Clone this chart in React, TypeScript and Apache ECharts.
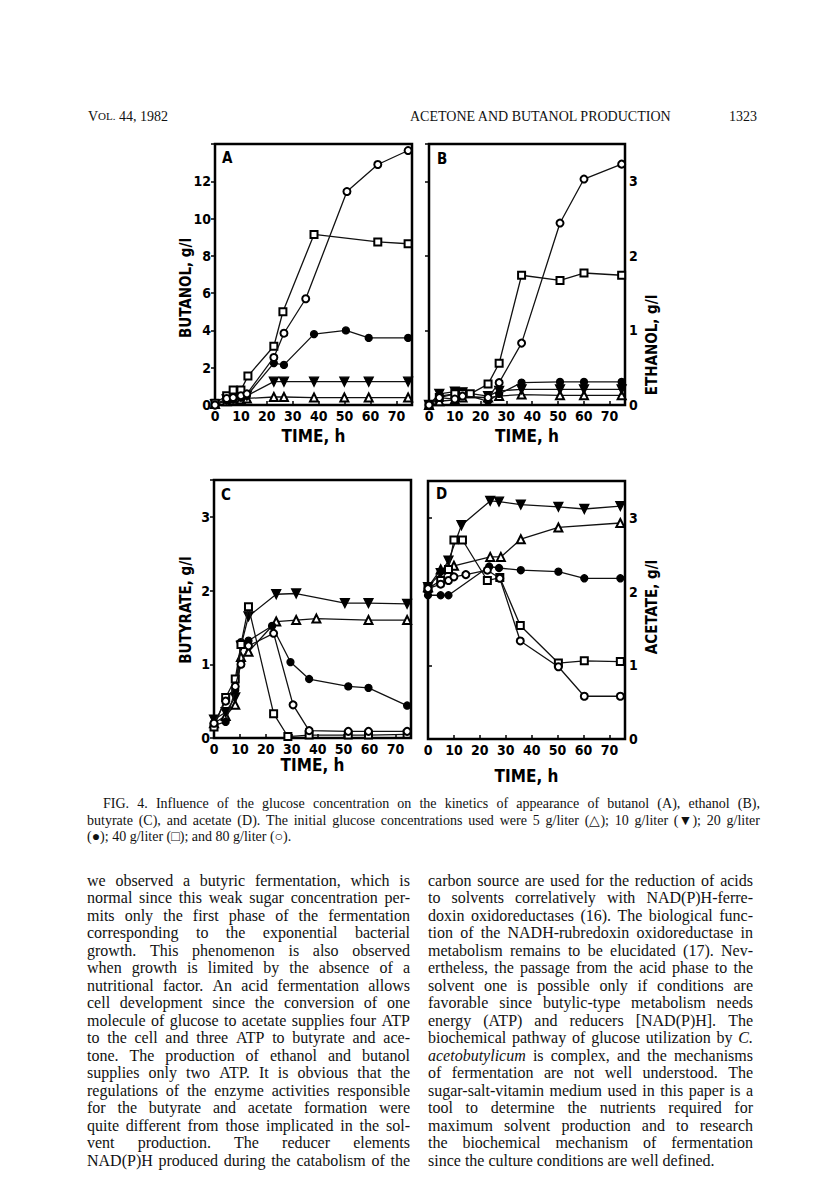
import React, { useEffect, useRef } from 'react';
import * as echarts from 'echarts';

// ---------- DATA (time h, value g/l) ----------
// Panel A: butanol
const butanol5: [number, number][] = [[0, 0.05], [4.5, 0.2], [7, 0.25], [10, 0.3], [12.3, 0.35], [22.7, 0.43], [26.6, 0.43], [38.2, 0.4], [49.9, 0.4], [59.3, 0.4], [74.5, 0.4]];
const butanol10: [number, number][] = [[0, 0.05], [4.5, 0.3], [7, 0.35], [10, 0.45], [12.3, 0.5], [22.7, 1.25], [26.6, 1.25], [38.2, 1.25], [49.9, 1.25], [59.3, 1.25], [74.5, 1.25]];
const butanol20: [number, number][] = [[0, 0], [4.5, 0.25], [7, 0.3], [10, 0.4], [12.3, 0.5], [22.7, 2.25], [26.6, 2.15], [38.2, 3.8], [50.5, 4.0], [59.3, 3.6], [74.5, 3.6]];
const butanol40: [number, number][] = [[0, 0.1], [4.5, 0.5], [7, 0.8], [10, 0.8], [12.7, 1.55], [22.7, 3.15], [26.2, 5.0], [38.2, 9.15], [62.8, 8.75], [74.5, 8.65]];
const butanol80: [number, number][] = [[0, 0], [4.5, 0.35], [7, 0.4], [10, 0.5], [12.3, 0.6], [22.7, 2.55], [26.6, 3.85], [35, 5.7], [50.9, 11.45], [62.8, 12.9], [74.5, 13.65]];

// Panel B: ethanol
const ethanol5: [number, number][] = [[0, 0], [4, 0.05], [10, 0.07], [13, 0.1], [22.9, 0.1], [27.2, 0.12], [35.9, 0.14], [50.8, 0.13], [60.1, 0.13], [74.7, 0.13]];
const ethanol10: [number, number][] = [[0, 0], [4, 0.15], [10, 0.18], [13, 0.17], [22.9, 0.12], [27.2, 0.19], [35.9, 0.21], [50.8, 0.21], [60.1, 0.21], [74.7, 0.21]];
const ethanol20: [number, number][] = [[0, 0], [4, 0.12], [10, 0.15], [13, 0.15], [22.9, 0.05], [27.2, 0.15], [35.9, 0.3], [50.8, 0.31], [60.1, 0.31], [74.7, 0.31]];
const ethanol40: [number, number][] = [[0, 0], [4, 0.1], [10, 0.15], [13, 0.15], [16, 0.15], [22.9, 0.28], [27.2, 0.56], [35.9, 1.74], [50.8, 1.67], [60.1, 1.77], [74.7, 1.74]];
const ethanol80: [number, number][] = [[0, 0], [4, 0.1], [10, 0.08], [13, 0.12], [22.9, 0.1], [27.2, 0.3], [35.9, 0.83], [50.8, 2.44], [60.1, 3.03], [74.7, 3.23]];

// Panel C: butyrate
const butyrate5: [number, number][] = [[0, 0.2], [4.5, 0.3], [8.2, 0.45], [10.4, 1.1], [13.3, 1.17], [24, 1.58], [31.7, 1.6], [39.5, 1.62], [59.6, 1.6], [74.5, 1.6]];
const butyrate10: [number, number][] = [[0, 0.25], [4.5, 0.35], [8.2, 0.55], [10.4, 1.25], [13.3, 1.65], [24, 1.95], [31.7, 1.96], [50.5, 1.83], [59.6, 1.83], [74.5, 1.82]];
const butyrate20: [number, number][] = [[0, 0.17], [4.5, 0.22], [8.2, 0.65], [10.4, 1.3], [13.3, 1.32], [22.4, 1.52], [29.5, 1.03], [36.7, 0.8], [51.8, 0.7], [59.6, 0.68], [74.5, 0.44]];
const butyrate40: [number, number][] = [[0, 0.15], [4.5, 0.55], [8.2, 0.8], [10.4, 1.27], [13.3, 1.78], [23, 0.33], [28.5, 0.02], [36.7, 0.04], [51.8, 0.04], [59.6, 0.04], [74.5, 0.05]];
const butyrate80: [number, number][] = [[0, 0.2], [4.5, 0.5], [8.2, 0.7], [10.4, 1.0], [13.3, 1.25], [23, 1.42], [30.5, 0.45], [36.7, 0.1], [51.8, 0.09], [59.6, 0.09], [74.5, 0.09]];

// Panel D: acetate
const acetate5: [number, number][] = [[0, 2.06], [4.9, 2.3], [7.9, 2.31], [10, 2.35], [24, 2.47], [28.1, 2.47], [35.8, 2.71], [50.3, 2.87], [74.2, 2.93]];
const acetate10: [number, number][] = [[0, 2.06], [4.9, 2.25], [7.9, 2.42], [12.9, 2.9], [24, 3.23], [27.4, 3.22], [35.8, 3.18], [50.3, 3.15], [60.3, 3.12], [74.2, 3.16]];
const acetate20: [number, number][] = [[0, 1.95], [4.9, 1.95], [7.9, 1.95], [23.6, 2.34], [27.4, 2.32], [35.8, 2.29], [50.3, 2.27], [60.3, 2.18], [74.2, 2.18]];
const acetate40: [number, number][] = [[0, 2.04], [4.9, 2.15], [7.9, 2.3], [10, 2.7], [13.3, 2.7], [22.9, 2.15], [27.7, 2.19], [35.6, 1.54], [50.3, 1.03], [60.3, 1.06], [74.2, 1.05]];
const acetate80: [number, number][] = [[0, 2.04], [4.9, 2.1], [7.9, 2.15], [10, 2.2], [14.6, 2.23], [22.9, 2.29], [27.7, 2.18], [35.6, 1.33], [50.3, 0.98], [60.3, 0.58], [74.2, 0.58]];

// ---------- TEXT ----------
const panelLetters = ['A', 'B', 'C', 'D'];
const yTitles = ['BUTANOL, g/l', 'ETHANOL, g/l', 'BUTYRATE, g/l', 'ACETATE, g/l'];
const xTitle = 'TIME, h';
const headerCenter = 'ACETONE AND BUTANOL PRODUCTION';
const headerPage = '1323';
const captionLines = [
  'FIG. 4. Influence of the glucose concentration on the kinetics of appearance of butanol (A), ethanol (B),',
  'butyrate (C), and acetate (D). The initial glucose concentrations used were 5 g/liter (\u25B3); 10 g/liter (\u25BC); 20 g/liter',
  '(\u25CF); 40 g/liter (\u25A1); and 80 g/liter (\u25CB).',
];
const leftColumn = [
  'we observed a butyric fermentation, which is',
  'normal since this weak sugar concentration per-',
  'mits only the first phase of the fermentation',
  'corresponding to the exponential bacterial',
  'growth. This phenomenon is also observed',
  'when growth is limited by the absence of a',
  'nutritional factor. An acid fermentation allows',
  'cell development since the conversion of one',
  'molecule of glucose to acetate supplies four ATP',
  'to the cell and three ATP to butyrate and ace-',
  'tone. The production of ethanol and butanol',
  'supplies only two ATP. It is obvious that the',
  'regulations of the enzyme activities responsible',
  'for the butyrate and acetate formation were',
  'quite different from those implicated in the sol-',
  'vent production. The reducer elements',
  'NAD(P)H produced during the catabolism of the',
];
const rightColumn = [
  'carbon source are used for the reduction of acids',
  'to solvents correlatively with NAD(P)H-ferre-',
  'doxin oxidoreductases (16). The biological func-',
  'tion of the NADH-rubredoxin oxidoreductase in',
  'metabolism remains to be elucidated (17). Nev-',
  'ertheless, the passage from the acid phase to the',
  'solvent one is possible only if conditions are',
  'favorable since butylic-type metabolism needs',
  'energy (ATP) and reducers [NAD(P)H]. The',
  'biochemical pathway of glucose utilization by _C.',
  '_acetobutylicum is complex, and the mechanisms',
  'of fermentation are not well understood. The',
  'sugar-salt-vitamin medium used in this paper is a',
  'tool to determine the nutrients required for',
  'maximum solvent production and to research',
  'the biochemical mechanism of fermentation',
  'since the culture conditions are well defined.',
];

const AX_FONT = '"DejaVu Sans Condensed","Liberation Sans Narrow","Roboto Condensed","DejaVu Sans",sans-serif';
const SERIF_NAME = 'Liberation Serif';
const SERIF = '"Liberation Serif","Times New Roman",serif';
const INK = '#111';

let measureCtx: CanvasRenderingContext2D | null = null;
function textWidth(t: string, size: number, italic: boolean): number {
  if (!measureCtx) measureCtx = document.createElement('canvas').getContext('2d');
  if (!measureCtx) return t.length * size * 0.45;
  measureCtx.font = `${italic ? 'italic ' : ''}${size}px "${SERIF_NAME}"`;
  return measureCtx.measureText(t).width;
}

function lineElements(line: string, x0: number, x1: number, y: number, size: number, justify: boolean): any[] {
  const words = line.split(' ').map((w) => ({ t: w.replace(/^_/, ''), it: w.startsWith('_') }));
  const widths = words.map((w) => textWidth(w.t, size, w.it));
  const total = widths.reduce((a, b) => a + b, 0);
  const gap = justify && words.length > 1 ? (x1 - x0 - total) / (words.length - 1) : textWidth(' ', size, false);
  let x = x0;
  return words.map((w, i) => {
    const el = {
      type: 'text', x, y, silent: true,
      style: { text: w.t, fontSize: size, fontFamily: SERIF, fontStyle: w.it ? 'italic' : 'normal', fill: INK, align: 'left', verticalAlign: 'middle' },
    };
    x += widths[i] + gap;
    return el;
  });
}

const markers: Record<string, any> = {
  g5: { symbol: 'emptyTriangle', symbolSize: 8 },
  g10: { symbol: 'triangle', symbolSize: 9, symbolRotate: 180 },
  g20: { symbol: 'circle', symbolSize: 7 },
  g40: { symbol: 'emptyRect', symbolSize: 7 },
  g80: { symbol: 'emptyCircle', symbolSize: 7 },
};

const grids = [
  { left: 215, top: 144, width: 197, height: 261 },
  { left: 429, top: 144, width: 196, height: 261 },
  { left: 214, top: 480, width: 197, height: 258 },
  { left: 428, top: 481, width: 197, height: 258 },
];
const xNameGaps = [22, 22, 18, 28];
const yTitlePos = [[186, 288], [652, 345], [186, 610], [652, 607]];
const letterPos = [[222, 158], [437, 159], [221, 495], [436, 494]];

function buildOption(): any {
  const panelData = [
    [butanol5, butanol10, butanol20, butanol40, butanol80],
    [ethanol5, ethanol10, ethanol20, ethanol40, ethanol80],
    [butyrate5, butyrate10, butyrate20, butyrate40, butyrate80],
    [acetate5, acetate10, acetate20, acetate40, acetate80],
  ];
  const keys = ['g5', 'g10', 'g20', 'g40', 'g80'];
  const labelStyle = { color: '#000', fontSize: 14, fontWeight: 'bold', fontFamily: AX_FONT };

  const xAxis = grids.map((_, i) => ({
    type: 'value', gridIndex: i, min: 0, max: 76, interval: 10,
    axisLine: { show: false },
    axisTick: { show: true, inside: true, length: 4, lineStyle: { color: '#000', width: 1.5 } },
    axisLabel: { ...labelStyle, margin: 4, formatter: (v: number) => (v % 10 === 0 ? String(v) : '') },
    splitLine: { show: false },
    name: xTitle, nameLocation: 'middle', nameGap: xNameGaps[i],
    nameTextStyle: { color: '#000', fontSize: 17, fontWeight: 'bold', fontFamily: AX_FONT },
  }));
  const yMax = [14, 3.5, 3.5, 3.5];
  const yInt = [2, 1, 1, 1];
  const yPos = ['left', 'right', 'left', 'right'];
  const yTickInside = [false, true, false, false];
  const yAxis = grids.map((_, i) => ({
    type: 'value', gridIndex: i, min: 0, max: yMax[i], interval: yInt[i], position: yPos[i],
    axisLine: { show: false },
    axisTick: { show: true, inside: yTickInside[i], length: 4, lineStyle: { color: '#000', width: 1.5 } },
    axisLabel: { ...labelStyle, margin: 4, formatter: (v: number) => (v < yMax[i] && Math.abs(v / yInt[i] - Math.round(v / yInt[i])) < 1e-6 ? String(v) : '') },
    splitLine: { show: false },
  }));

  const series: any[] = [];
  panelData.forEach((arrs, p) => {
    arrs.forEach((data, k) => {
      series.push({
        type: 'line', xAxisIndex: p, yAxisIndex: p, data,
        ...markers[keys[k]],
        showSymbol: true, clip: false,
        lineStyle: { color: INK, width: 1.3 },
        itemStyle: { color: '#000', borderColor: '#000', borderWidth: 1.3 },
        emphasis: { disabled: true },
        z: 3 + k,
      });
    });
  });

  const graphic: any[] = [];
  // header
  graphic.push({
    type: 'text', x: 88, y: 116, silent: true,
    style: {
      text: '{a|V}{b|OL.}{a| 44, 1982}', verticalAlign: 'middle', align: 'left',
      rich: { a: { fontSize: 14, fontFamily: SERIF, fill: INK }, b: { fontSize: 11, fontFamily: SERIF, fill: INK } },
    },
  });
  graphic.push({ type: 'text', x: 410, y: 116, silent: true, style: { text: headerCenter, fontSize: 14, fontFamily: SERIF, fill: INK, align: 'left', verticalAlign: 'middle' } });
  graphic.push({ type: 'text', x: 757, y: 116, silent: true, style: { text: headerPage, fontSize: 14, fontFamily: SERIF, fill: INK, align: 'right', verticalAlign: 'middle' } });

  // panel letters and y titles
  panelLetters.forEach((l, i) => {
    graphic.push({ type: 'text', x: letterPos[i][0], y: letterPos[i][1], silent: true, style: { text: l, fontSize: 15, fontWeight: 'bold', fontFamily: AX_FONT, fill: '#000', align: 'left', verticalAlign: 'middle' } });
    graphic.push({ type: 'text', x: yTitlePos[i][0], y: yTitlePos[i][1], rotation: Math.PI / 2, silent: true, style: { text: yTitles[i], fontSize: 15, fontWeight: 'bold', fontFamily: AX_FONT, fill: '#000', align: 'center', verticalAlign: 'middle' } });
  });

  // caption
  const capY = [803, 820, 836];
  captionLines.forEach((ln, i) => {
    const x0 = i === 0 ? 103 : 87;
    graphic.push(...lineElements(ln, x0, 760, capY[i], 14, i < captionLines.length - 1));
  });

  // body columns
  leftColumn.forEach((ln, i) => {
    graphic.push(...lineElements(ln, 87, 410, 880 + i * 17.5, 16, true));
  });
  rightColumn.forEach((ln, i) => {
    graphic.push(...lineElements(ln, 428, 753, 880 + i * 17.5, 16, i < rightColumn.length - 1));
  });

  return {
    animation: false,
    backgroundColor: '#fff',
    grid: grids.map((g) => ({ ...g, show: true, borderColor: '#000', borderWidth: 2.5, backgroundColor: 'transparent', containLabel: false })),
    xAxis, yAxis, series, graphic,
  };
}

export default function App() {
  const ref = useRef<HTMLDivElement>(null);
  useEffect(() => {
    if (!ref.current) return;
    const chart = echarts.init(ref.current, null, { renderer: 'svg' });
    chart.setOption(buildOption());
    return () => chart.dispose();
  }, []);
  return <div ref={ref} style={{ position: 'fixed', left: 0, top: 0, width: 816, height: 1203, background: '#fff' }} />;
}
